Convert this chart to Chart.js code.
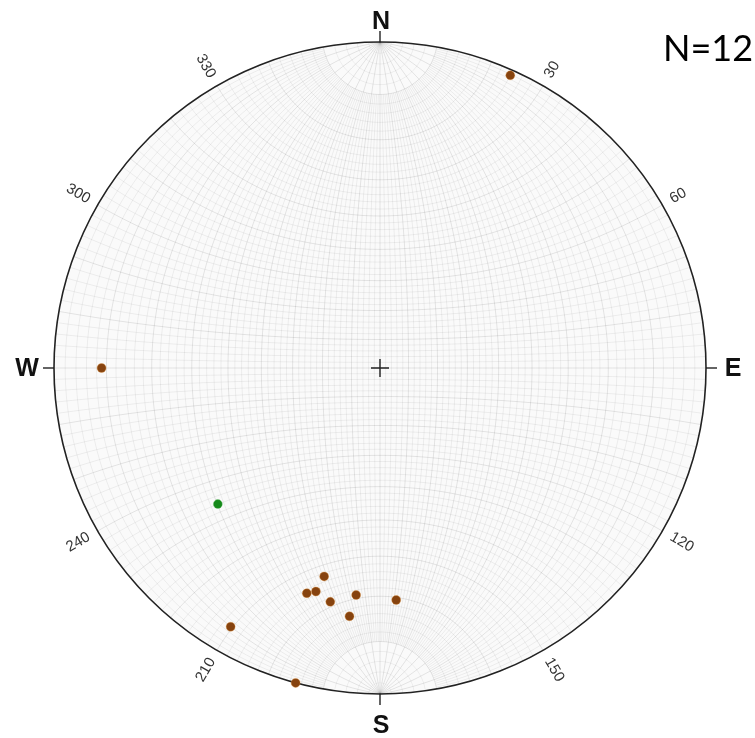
<!DOCTYPE html>
<html>
<head>
<meta charset="utf-8">
<script src="https://cdn.jsdelivr.net/npm/chart.js@4.4.1/dist/chart.umd.min.js"></script>
<style>
  body { margin: 0; background: #fff; }
  canvas { display: block; }
</style>
</head>
<body>
<canvas id="red" width="755" height="738"></canvas>
<script>
const trendMarron = [24, 270, 210, 195, 195, 196, 198, 192, 186, 187, 176];
const plungeMarron = [1, 9, 5, 0, 23, 19, 18, 17.5, 20, 15, 19];
const trendVerde = [230];
const plungeVerde = [24];

const puntosCardinales = ['N', 'E', 'S', 'W'];
const azimutCardinales = [0, 90, 180, 270];
const etiquetasGrados = [30, 60, 120, 150, 210, 240, 300, 330];
const textoTotal = 'N=12';

const rad = Math.PI / 180;

// Proyeccion estereografica (Wulff), hemisferio inferior
function proyectar(tr, pl) {
  const vx = Math.cos(pl * rad) * Math.sin(tr * rad);
  const vy = Math.cos(pl * rad) * Math.cos(tr * rad);
  const vz = Math.sin(pl * rad);
  return { x: vx / (1 + vz), y: vy / (1 + vz) };
}

function vectorAPlano(v) {
  return { x: v[0] / (1 + v[2]), y: v[1] / (1 + v[2]) };
}

const datosMarron = trendMarron.map((t, i) => proyectar(t, plungeMarron[i]));
const datosVerde = trendVerde.map((t, i) => proyectar(t, plungeVerde[i]));

// Plugin que dibuja la red de Wulff, el circulo primitivo y las etiquetas
const redWulff = {
  id: 'redWulff',
  beforeDatasetsDraw(chart) {
    const ctx = chart.ctx;
    const xs = chart.scales.x, ys = chart.scales.y;
    const cx = xs.getPixelForValue(0), cy = ys.getPixelForValue(0);
    const R = xs.getPixelForValue(1) - cx;

    function trazar(puntos) {
      ctx.beginPath();
      puntos.forEach((p, i) => {
        const px = xs.getPixelForValue(p.x), py = ys.getPixelForValue(p.y);
        if (i === 0) ctx.moveTo(px, py); else ctx.lineTo(px, py);
      });
      ctx.stroke();
    }

    ctx.save();
    ctx.beginPath();
    ctx.arc(cx, cy, R, 0, Math.PI * 2);
    ctx.clip();
    ctx.fillStyle = '#fafafa';
    ctx.fill();
    ctx.lineWidth = 1;

    // circulos menores alrededor del eje N-S
    for (let a = 2; a < 180; a += 2) {
      const pts = [];
      for (let f = 0; f <= 180; f += 1) {
        pts.push(vectorAPlano([Math.sin(a * rad) * Math.cos(f * rad), Math.cos(a * rad), Math.sin(a * rad) * Math.sin(f * rad)]));
      }
      ctx.strokeStyle = a % 10 === 0 ? 'rgba(0,0,0,0.095)' : 'rgba(0,0,0,0.06)';
      trazar(pts);
    }

    // circulos maximos que pasan por N y S
    for (let b = 2; b < 180; b += 2) {
      const tmin = b % 10 === 0 ? 0 : 10;
      const pts = [];
      for (let t = tmin; t <= 180 - tmin; t += 1) {
        pts.push(vectorAPlano([Math.sin(t * rad) * Math.cos(b * rad), Math.cos(t * rad), Math.sin(t * rad) * Math.sin(b * rad)]));
      }
      ctx.strokeStyle = b % 10 === 0 ? 'rgba(0,0,0,0.095)' : 'rgba(0,0,0,0.06)';
      trazar(pts);
    }
    ctx.restore();

    // circulo primitivo
    ctx.save();
    ctx.strokeStyle = '#222';
    ctx.lineWidth = 1.6;
    ctx.beginPath();
    ctx.arc(cx, cy, R, 0, Math.PI * 2);
    ctx.stroke();

    // cruz central
    ctx.lineWidth = 1.4;
    ctx.beginPath();
    ctx.moveTo(cx - 9, cy); ctx.lineTo(cx + 9, cy);
    ctx.moveTo(cx, cy - 9); ctx.lineTo(cx, cy + 9);
    ctx.stroke();

    // marcas y letras cardinales
    ctx.font = 'bold 25px "Liberation Sans", Arial, sans-serif';
    ctx.fillStyle = '#111';
    ctx.textAlign = 'center';
    puntosCardinales.forEach((l, i) => {
      const az = azimutCardinales[i] * rad;
      const sx = Math.sin(az), sy = -Math.cos(az);
      ctx.lineWidth = 1.4;
      ctx.beginPath();
      ctx.moveTo(cx + sx * R, cy + sy * R);
      ctx.lineTo(cx + sx * (R + 11), cy + sy * (R + 11));
      ctx.stroke();
      if (l === 'N') {
        ctx.textBaseline = 'alphabetic';
        ctx.fillText(l, cx + 1, cy - R - 13);
      } else if (l === 'S') {
        ctx.textBaseline = 'alphabetic';
        ctx.fillText(l, cx + 1, cy + R + 39);
      } else {
        ctx.textBaseline = 'middle';
        ctx.fillText(l, cx + sx * (R + 27), cy + 1);
      }
    });

    // etiquetas de azimut
    ctx.font = '15px "Liberation Sans", Arial, sans-serif';
    ctx.fillStyle = '#333';
    etiquetasGrados.forEach(g => {
      const az = g * rad;
      const px = cx + Math.sin(az) * (R + 10);
      const py = cy - Math.cos(az) * (R + 10);
      ctx.save();
      ctx.translate(px, py);
      if (g < 180) {
        ctx.rotate((g - 90) * rad);
        ctx.textAlign = 'left';
      } else {
        ctx.rotate((g - 270) * rad);
        ctx.textAlign = 'right';
      }
      ctx.textBaseline = 'middle';
      ctx.fillText(String(g), 0, 0);
      ctx.restore();
    });

    // total de datos
    ctx.font = '36px Lato, "Open Sans", sans-serif';
    ctx.fillStyle = '#000';
    ctx.textAlign = 'left';
    ctx.textBaseline = 'alphabetic';
    ctx.fillText(textoTotal, 663, 61);
    ctx.restore();
  }
};

const chart = new Chart(document.getElementById('red'), {
  type: 'scatter',
  data: {
    datasets: [
      {
        label: 'Lineaciones',
        data: datosMarron,
        backgroundColor: '#86430f',
        borderColor: 'rgba(230,150,60,0.35)',
        borderWidth: 1,
        pointRadius: 4.5,
        clip: false
      },
      {
        label: 'Media',
        data: datosVerde,
        backgroundColor: '#15891a',
        borderColor: 'rgba(120,200,120,0.35)',
        borderWidth: 1,
        pointRadius: 4.5,
        clip: false
      }
    ]
  },
  options: {
    responsive: false,
    animation: false,
    layout: { padding: { left: 54, right: 49, top: 42, bottom: 44 } },
    scales: {
      x: { type: 'linear', min: -1, max: 1, display: false },
      y: { type: 'linear', min: -1, max: 1, display: false }
    },
    plugins: {
      legend: { display: false },
      tooltip: { enabled: false }
    }
  },
  plugins: [redWulff]
});
</script>
</body>
</html>
